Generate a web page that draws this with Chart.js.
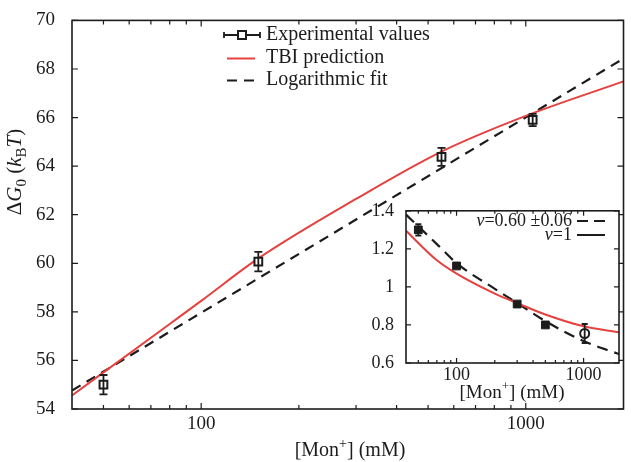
<!DOCTYPE html>
<html lang="en">
<head>
<meta charset="UTF-8">
<title>Free energy vs monovalent salt</title>
<script src="https://cdn.jsdelivr.net/npm/chart.js@4"></script>
<style>
  html, body { margin: 0; padding: 0; background: #fff; }
  #wrap { position: relative; width: 631px; height: 462px; }
  #main { position: absolute; left: 0; top: 0; }
  #inset { position: absolute; left: 360px; top: 196px; }
</style>
</head>
<body>
<div id="wrap">
  <canvas id="main" width="631" height="462"></canvas>
  <canvas id="inset" width="271" height="214"></canvas>
</div>
<script>
// ---- main panel data ----
const expSalt = [50, 150, 550, 1050];
const expDG = [55.0, 60.07, 64.38, 65.9];
const expErr = [0.4, 0.4, 0.37, 0.25];

const tbiSalt = [40, 80, 100, 150, 300, 550, 1000, 2000];
const tbiDG = [54.56, 57.5, 58.45, 60.2, 62.65, 64.6, 66.07, 67.49];

const fitSalt = [40, 2000];
const fitDG = [54.76, 68.43];

const mainXTicks = [100, 1000];
const mainXMinor = [50, 60, 70, 80, 90, 200, 300, 400, 500, 600, 700, 800, 900];
const mainYTicks = [54, 56, 58, 60, 62, 64, 66, 68, 70];

// ---- inset data ----
const pSalt = [50, 100, 300, 500];
const pVal = [1.30, 1.11, 0.91, 0.80];
const pErr = [0.03, 0, 0, 0];

const openSalt = [1020];
const openVal = [0.755];
const openErr = [0.05];

const nu1Salt = [40, 70, 100, 200, 300, 500, 1000, 1900];
const nu1Val = [1.295, 1.14, 1.07, 0.965, 0.915, 0.855, 0.793, 0.762];

const nu06Salt = [40, 70, 100, 200, 300, 500, 1000, 1900];
const nu06Val = [1.38, 1.225, 1.125, 0.99, 0.915, 0.82, 0.715, 0.647];

const insetXTicks = [100, 1000];
const insetXMinor = [50, 60, 70, 80, 90, 200, 300, 400, 500, 600, 700, 800, 900];
const insetYTicks = [0.6, 0.8, 1, 1.2, 1.4];

const FONT = "'Liberation Serif', 'DejaVu Serif', serif";
const INK = '#1c1c1c';
const RED = '#e5423f';

const pts = (xs, ys) => xs.map((x, i) => ({ x: x, y: ys[i] }));

// draw text made of pieces: [text, style] where style is '', 'i', 'sub', 'sup'
function richText(ctx, parts, x, y, size, align) {
  const fontOf = s => (s === 'i' ? 'italic ' : '') + Math.round((s === 'sub' || s === 'sup') ? size * 0.7 : size) + 'px ' + FONT;
  let total = 0;
  parts.forEach(([t, s]) => { ctx.font = fontOf(s); total += ctx.measureText(t).width; });
  let cx = align === 'center' ? x - total / 2 : align === 'right' ? x - total : x;
  ctx.textAlign = 'left';
  ctx.textBaseline = 'alphabetic';
  parts.forEach(([t, s]) => {
    ctx.font = fontOf(s);
    const dy = s === 'sub' ? size * 0.22 : s === 'sup' ? -size * 0.4 : 0;
    ctx.fillText(t, cx, y + dy);
    cx += ctx.measureText(t).width;
  });
}

const errorBars = {
  id: 'errorBars',
  afterDatasetsDraw(chart) {
    const ctx = chart.ctx, ys = chart.scales.y;
    chart.data.datasets.forEach((ds, i) => {
      if (!ds.errors) return;
      const meta = chart.getDatasetMeta(i);
      ctx.save();
      ctx.strokeStyle = INK;
      ctx.lineWidth = 1.8;
      meta.data.forEach((pt, j) => {
        const e = ds.errors[j];
        if (!e) return;
        const v = ds.data[j].y;
        const y1 = ys.getPixelForValue(v + e), y2 = ys.getPixelForValue(v - e);
        const c = ds.capHalf;
        ctx.beginPath();
        ctx.moveTo(pt.x, y1); ctx.lineTo(pt.x, y2);
        ctx.moveTo(pt.x - c, y1); ctx.lineTo(pt.x + c, y1);
        ctx.moveTo(pt.x - c, y2); ctx.lineTo(pt.x + c, y2);
        ctx.stroke();
      });
      ctx.restore();
    });
  }
};

function frameTicks(o) {
  return {
    id: 'frameTicks',
    afterDraw(chart) {
      const { ctx, chartArea: a, scales: { x, y } } = chart;
      ctx.save();
      ctx.strokeStyle = INK;
      ctx.lineWidth = o.lw;
      ctx.strokeRect(a.left, a.top, a.right - a.left, a.bottom - a.top);
      ctx.lineWidth = 1.2;
      ctx.beginPath();
      const xt = (v, len) => {
        const p = x.getPixelForValue(v);
        ctx.moveTo(p, a.bottom); ctx.lineTo(p, a.bottom - len);
        ctx.moveTo(p, a.top); ctx.lineTo(p, a.top + len);
      };
      o.xMajor.forEach(v => xt(v, o.major));
      o.xMinor.forEach(v => xt(v, o.minor));
      o.yMajor.forEach(v => {
        const p = y.getPixelForValue(v);
        ctx.moveTo(a.left, p); ctx.lineTo(a.left + o.major, p);
        ctx.moveTo(a.right, p); ctx.lineTo(a.right - o.major, p);
      });
      ctx.stroke();
      ctx.restore();
    }
  };
}

const mainDecor = {
  id: 'mainDecor',
  afterDraw(chart) {
    const ctx = chart.ctx;
    ctx.save();
    ctx.fillStyle = INK;
    // axis titles
    richText(ctx, [['[Mon', ''], ['+', 'sup'], ['] (mM)', '']], 350, 456, 20, 'center');
    ctx.translate(21, 172);
    ctx.rotate(-Math.PI / 2);
    richText(ctx, [['\u0394', ''], ['G', 'i'], ['0', 'sub'], [' (', ''], ['k', 'i'], ['B', 'sub'], ['T', 'i'], [')', '']], 0, 0, 21, 'center');
    ctx.restore();

    // legend
    ctx.save();
    ctx.strokeStyle = INK;
    ctx.lineWidth = 1.8;
    ctx.beginPath();
    ctx.moveTo(224, 35); ctx.lineTo(260, 35);
    ctx.moveTo(224, 32); ctx.lineTo(224, 38);
    ctx.moveTo(260, 32); ctx.lineTo(260, 38);
    ctx.stroke();
    ctx.fillStyle = '#fff';
    ctx.lineWidth = 2;
    ctx.fillRect(238, 31, 8, 8);
    ctx.strokeRect(238, 31, 8, 8);
    ctx.strokeStyle = RED;
    ctx.beginPath(); ctx.moveTo(227, 58.5); ctx.lineTo(255, 58.5); ctx.stroke();
    ctx.strokeStyle = INK;
    ctx.setLineDash([10, 7]);
    ctx.beginPath(); ctx.moveTo(227, 80.5); ctx.lineTo(255, 80.5); ctx.stroke();
    ctx.setLineDash([]);
    ctx.fillStyle = INK;
    ctx.font = '20px ' + FONT;
    ctx.textBaseline = 'middle';
    ctx.fillText('Experimental values', 266, 35);
    ctx.fillText('TBI prediction', 266, 58);
    ctx.fillText('Logarithmic fit', 266, 80);
    ctx.restore();
  }
};

const insetDecor = {
  id: 'insetDecor',
  beforeDraw(chart) {
    const { ctx, chartArea: a } = chart;
    ctx.save();
    ctx.fillStyle = '#fff';
    ctx.fillRect(a.left, a.top, a.right - a.left, a.bottom - a.top);
    ctx.restore();
  },
  afterDraw(chart) {
    const ctx = chart.ctx;
    ctx.save();
    ctx.fillStyle = INK;
    richText(ctx, [['[Mon', ''], ['+', 'sup'], ['] (mM)', '']], 152, 202, 19, 'center');
    // inset legend (page coords minus canvas offset 360,196)
    richText(ctx, [['\u03bd', 'i'], ['=0.60 \u00b10.06', '']], 212, 30, 18, 'right');
    richText(ctx, [['\u03bd', 'i'], ['=1', '']], 212, 44, 18, 'right');
    ctx.strokeStyle = INK;
    ctx.lineWidth = 2;
    ctx.setLineDash([11, 6]);
    ctx.beginPath(); ctx.moveTo(217, 25); ctx.lineTo(245, 25); ctx.stroke();
    ctx.setLineDash([]);
    ctx.beginPath(); ctx.moveTo(217, 39); ctx.lineTo(245, 39); ctx.stroke();
    ctx.restore();
  }
};

// ---- main chart ----
new Chart(document.getElementById('main'), {
  type: 'line',
  data: {
    datasets: [
      {
        label: 'Experimental values',
        data: pts(expSalt, expDG),
        errors: expErr,
        capHalf: 4,
        showLine: false,
        pointStyle: 'rect',
        pointRadius: 5.5,
        pointBackgroundColor: '#fff',
        pointBorderColor: INK,
        pointBorderWidth: 2,
        borderColor: INK,
        order: 0
      },
      {
        label: 'TBI prediction',
        data: pts(tbiSalt, tbiDG),
        borderColor: RED,
        borderWidth: 2,
        pointRadius: 0,
        cubicInterpolationMode: 'monotone',
        order: 1
      },
      {
        label: 'Logarithmic fit',
        data: pts(fitSalt, fitDG),
        borderColor: INK,
        borderWidth: 2.2,
        borderDash: [10, 7],
        pointRadius: 0,
        order: 2
      }
    ]
  },
  options: {
    responsive: false,
    animation: false,
    devicePixelRatio: 1,
    layout: { padding: { top: 13, right: 2, left: 0, bottom: 0 } },
    plugins: { legend: { display: false }, tooltip: { enabled: false } },
    scales: {
      x: {
        type: 'logarithmic',
        min: 40,
        max: 2000,
        grid: { display: false },
        border: { display: false },
        afterBuildTicks: s => { s.ticks = mainXTicks.map(v => ({ value: v })); },
        afterFit: s => { s.height = 53; },
        ticks: {
          autoSkip: false, maxRotation: 0, padding: -4,
          color: INK, font: { family: FONT, size: 19 },
          callback: v => String(v)
        }
      },
      y: {
        type: 'linear',
        min: 54,
        max: 70,
        grid: { display: false },
        border: { display: false },
        afterBuildTicks: s => { s.ticks = mainYTicks.map(v => ({ value: v })); },
        afterFit: s => { s.width = 72; },
        ticks: {
          padding: 9, color: INK, font: { family: FONT, size: 19 },
          callback: v => String(v)
        }
      }
    }
  },
  plugins: [frameTicks({ lw: 1.6, major: 6, minor: 4, xMajor: mainXTicks, xMinor: mainXMinor, yMajor: mainYTicks }), errorBars, mainDecor]
});

// ---- inset chart ----
new Chart(document.getElementById('inset'), {
  type: 'line',
  data: {
    datasets: [
      {
        label: 'measured P',
        data: pts(pSalt, pVal),
        errors: pErr,
        capHalf: 3,
        showLine: false,
        pointStyle: 'rect',
        pointRadius: 5.5,
        pointBackgroundColor: INK,
        pointBorderColor: INK,
        pointBorderWidth: 1,
        borderColor: INK,
        order: 0
      },
      {
        label: 'measured P (high salt)',
        data: pts(openSalt, openVal),
        errors: openErr,
        capHalf: 3,
        showLine: false,
        pointStyle: 'circle',
        pointRadius: 4.5,
        pointBackgroundColor: '#fff',
        pointBorderColor: INK,
        pointBorderWidth: 2,
        borderColor: INK,
        order: 0
      },
      {
        label: 'nu=1',
        data: pts(nu1Salt, nu1Val),
        borderColor: RED,
        borderWidth: 2,
        pointRadius: 0,
        cubicInterpolationMode: 'monotone',
        order: 1
      },
      {
        label: 'nu=0.60',
        data: pts(nu06Salt, nu06Val),
        borderColor: INK,
        borderWidth: 2.2,
        borderDash: [11, 7],
        pointRadius: 0,
        cubicInterpolationMode: 'monotone',
        order: 2
      }
    ]
  },
  options: {
    responsive: false,
    animation: false,
    devicePixelRatio: 1,
    layout: { padding: { top: 12, right: 12, left: 0, bottom: 0 } },
    plugins: { legend: { display: false }, tooltip: { enabled: false } },
    scales: {
      x: {
        type: 'logarithmic',
        min: 40,
        max: 1900,
        grid: { display: false },
        border: { display: false },
        afterBuildTicks: s => { s.ticks = insetXTicks.map(v => ({ value: v })); },
        afterFit: s => { s.height = 47; },
        ticks: {
          autoSkip: false, maxRotation: 0, padding: -7,
          color: INK, font: { family: FONT, size: 18 },
          callback: v => String(v)
        }
      },
      y: {
        type: 'linear',
        min: 0.6,
        max: 1.4,
        grid: { display: false },
        border: { display: false },
        afterBuildTicks: s => { s.ticks = insetYTicks.map(v => ({ value: v })); },
        afterFit: s => { s.width = 46; },
        ticks: {
          padding: 4, color: INK, font: { family: FONT, size: 18 },
          callback: v => String(+Number(v).toFixed(1))
        }
      }
    }
  },
  plugins: [frameTicks({ lw: 1.6, major: 5, minor: 3, xMajor: insetXTicks, xMinor: insetXMinor, yMajor: insetYTicks }), errorBars, insetDecor]
});
</script>
</body>
</html>
